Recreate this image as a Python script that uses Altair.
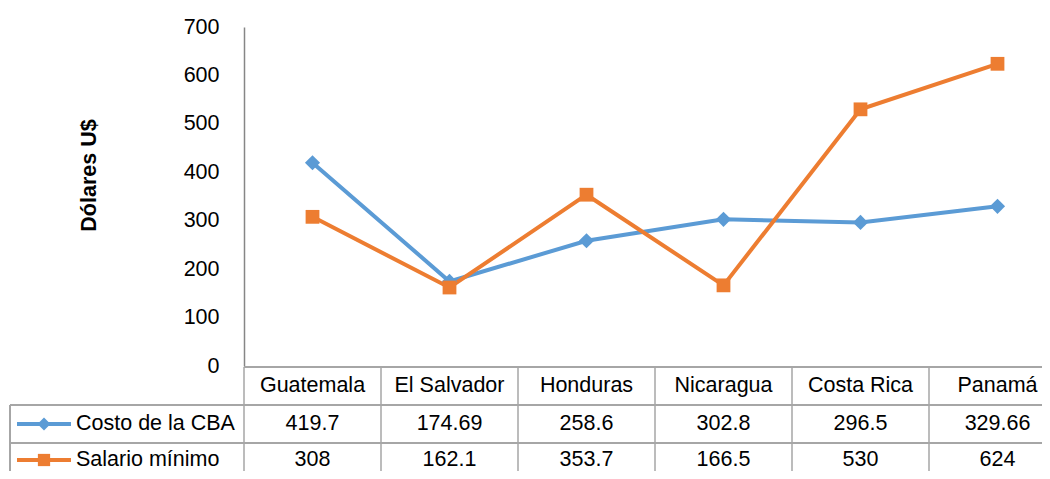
import altair as alt
import pandas as pd

countries = ["Guatemala", "El Salvador", "Honduras", "Nicaragua", "Costa Rica", "Panamá"]
cba = [419.7, 174.69, 258.6, 302.8, 296.5, 329.66]
salario = [308, 162.1, 353.7, 166.5, 530, 624]
series_names = ["Costo de la CBA", "Salario mínimo"]
series_colors = ["#5B9BD5", "#ED7D31"]
y_ticks = [0, 100, 200, 300, 400, 500, 600, 700]

FONT = "Liberation Sans, Arial, sans-serif"
FS = 21.5
GRID = "#a6a6a6"

rows = []
for name, vals in zip(series_names, [cba, salario]):
    for c, v in zip(countries, vals):
        rows.append({"pais": c, "serie": name, "valor": v, "etiqueta": str(v)})
df = pd.DataFrame(rows)
df_c = pd.DataFrame({"pais": countries})
df_s = pd.DataFrame({"serie": series_names})

W, H = 798, 339
BAND = 137
xscale = alt.Scale(domain=countries, range=[0, BAND * len(countries)], paddingInner=0, paddingOuter=0)
cscale = alt.Scale(domain=series_names, range=series_colors)

X = alt.X("pais:N", scale=xscale, sort=countries, axis=None)
Y = alt.Y("valor:Q", scale=alt.Scale(domain=[0, 700], nice=False),
          axis=alt.Axis(values=y_ticks, grid=False, ticks=False, tickSize=0, labelPadding=25,
                        labelFont=FONT, labelFontSize=FS, labelColor="black",
                        domainColor="#868686", domainWidth=1.5,
                        title="Dólares U$", titleFont=FONT, titleFontSize=FS, titleFontWeight="bold",
                        titleColor="black", titleAngle=270, titleAlign="center", titleBaseline="middle",
                        titleX=-155, titleY=148))

lines = alt.Chart(df).mark_line(strokeWidth=4).encode(
    x=X, y=Y, color=alt.Color("serie:N", scale=cscale, legend=None), detail="serie:N")
points = alt.Chart(df).mark_point(filled=True, opacity=1).encode(
    x=X, y=alt.Y("valor:Q"),
    color=alt.Color("serie:N", scale=cscale, legend=None),
    shape=alt.Shape("serie:N", scale=alt.Scale(domain=series_names, range=["diamond", "square"]), legend=None),
    size=alt.Size("serie:N", scale=alt.Scale(domain=series_names, range=[230, 190]), legend=None))

# table grid
hline0 = alt.Chart(df_c).mark_rule(color=GRID, strokeWidth=1.5).encode(
    x=alt.value(0), x2=alt.value(BAND * 6), y=alt.value(340))
hline1 = alt.Chart(df_c).mark_rule(color=GRID, strokeWidth=1.5).encode(
    x=alt.value(-234), x2=alt.value(BAND * 6), y=alt.value(378))
hline2 = alt.Chart(df_c).mark_rule(color=GRID, strokeWidth=1.5).encode(
    x=alt.value(-234), x2=alt.value(BAND * 6), y=alt.value(416))
vlines = alt.Chart(df_c).mark_rule(color=GRID, strokeWidth=1.5).encode(
    x=alt.X("pais:N", scale=xscale, sort=countries, axis=None, bandPosition=0),
    y=alt.value(340), y2=alt.value(460))
lborder = alt.Chart(df_c).mark_rule(color=GRID, strokeWidth=1.5).encode(
    x=alt.value(-234), y=alt.value(378), y2=alt.value(460))

header = alt.Chart(df_c).mark_text(font=FONT, fontSize=FS, baseline="middle", align="center", color="black").encode(
    x=X, y=alt.value(359), text="pais:N")

row_y = [397, 433]
table_layers = []
for i, name in enumerate(series_names):
    vals = alt.Chart(df).transform_filter(alt.datum.serie == name).mark_text(
        font=FONT, fontSize=FS, baseline="middle", align="center", color="black").encode(
        x=X, y=alt.value(row_y[i]), text="etiqueta:N")
    key_line = alt.Chart(df_s).transform_filter(alt.datum.serie == name).mark_rule(
        strokeWidth=4, color=series_colors[i]).encode(
        x=alt.value(-227), x2=alt.value(-173), y=alt.value(row_y[i]))
    key_pt = alt.Chart(df_s).transform_filter(alt.datum.serie == name).mark_point(
        filled=True, opacity=1, color=series_colors[i],
        shape=["diamond", "square"][i], size=[170, 150][i]).encode(
        x=alt.value(-200), y=alt.value(row_y[i]))
    key_txt = alt.Chart(df_s).transform_filter(alt.datum.serie == name).mark_text(
        font=FONT, fontSize=FS, baseline="middle", align="left", color="black").encode(
        x=alt.value(-168), y=alt.value(row_y[i]), text="serie:N")
    table_layers += [vals, key_line, key_pt, key_txt]

chart = alt.layer(
    hline0, hline1, hline2, vlines, lborder, header, *table_layers, lines, points
).properties(
    width=W, height=H,
    autosize=alt.AutoSizeParams(type="none"),
    padding={"left": 236, "top": 19, "right": 0, "bottom": 105},
    background="white"
).configure_view(stroke=None)

chart.save("out.html", embed_options={"renderer": "svg", "actions": False})
